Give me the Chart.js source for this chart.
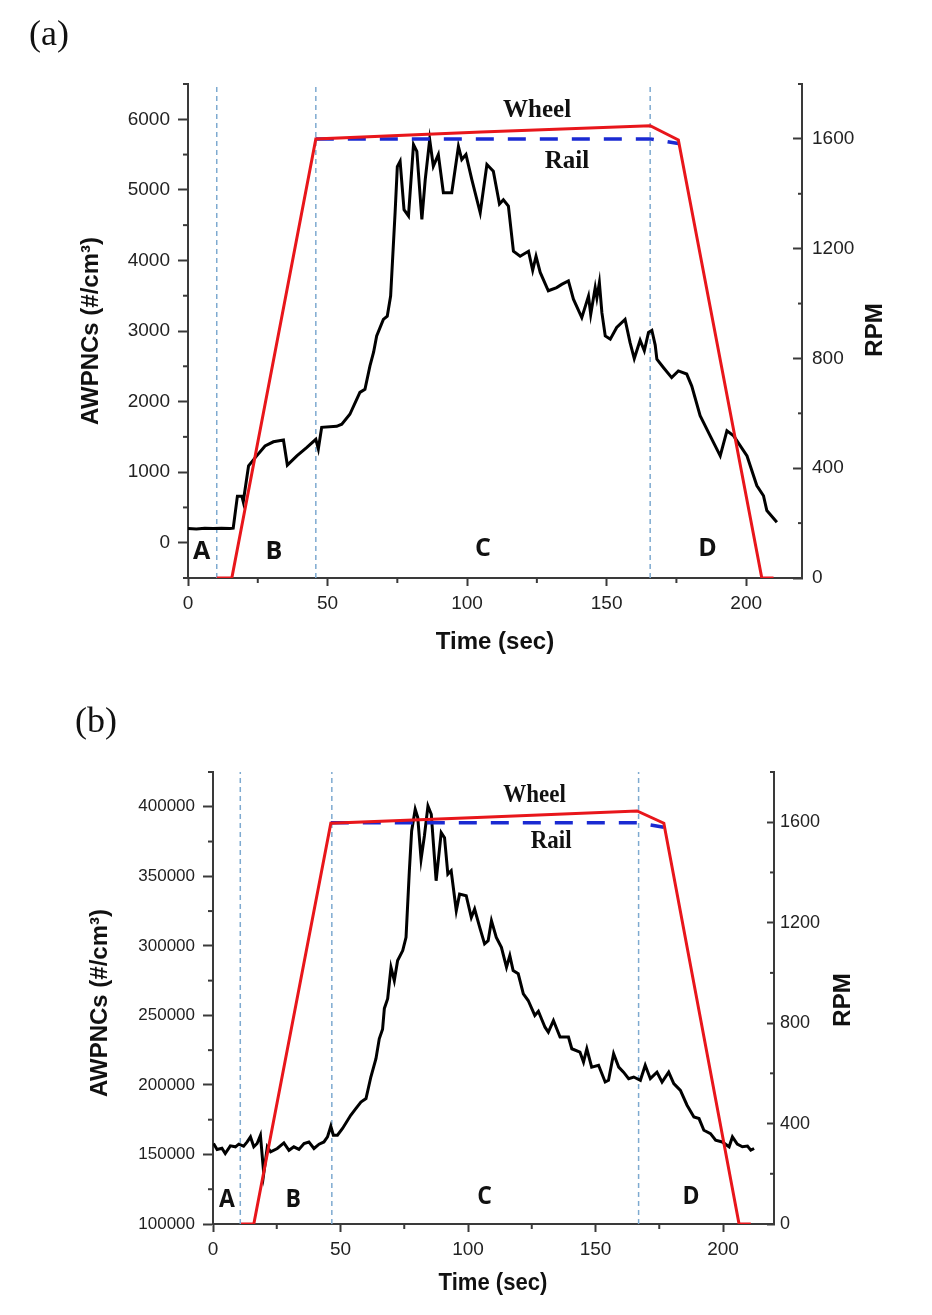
<!DOCTYPE html>
<html>
<head>
<meta charset="utf-8">
<script src="https://cdn.jsdelivr.net/npm/chart.js@4.4.1/dist/chart.umd.min.js"></script>
<style>
  body { margin: 0; background: #fff; }
  #wrap { position: relative; width: 932px; height: 1315px; }
  canvas { position: absolute; left: 0; }
  #chartA { top: 0; }
  #chartB { top: 670px; }
</style>
</head>
<body>
<div id="wrap">
  <canvas id="chartA" width="932" height="670"></canvas>
  <canvas id="chartB" width="932" height="645"></canvas>
</div>
<script>
// ---------- panel (a) data ----------
const timeA = [0, 3, 6, 9, 12, 15, 16.2, 17.7, 19.3, 19.8, 21.7, 24.6, 27.6, 30.6, 34.2, 35.6, 39, 42.6, 45.8, 46.7,
  47.9, 53.3, 55.1, 58, 61.6, 63.4, 65.2, 66.5, 67.6, 70, 71.4, 72.6, 74.2, 75, 76, 77.4, 79, 80.8, 82, 83.8,
  85, 86.6, 87.9, 89.7, 91.5, 94.5, 96.9, 98.1, 99.6, 101.7, 104.7, 107.1, 109.4, 111.6, 113, 114.8, 116.6, 119, 122, 123.5,
  124.7, 126.2, 129.1, 132.1, 133.9, 136.3, 138.1, 141.1, 143.5, 144.3, 145.9, 146.5, 147.4, 148.3, 149.5, 151.3, 153.6, 156.6, 158.4, 159.9,
  162, 163.5, 165, 166.2, 167.4, 168, 170.4, 173.3, 175.7, 178.7, 180.5, 183.5, 187.1, 190.7, 193.1, 195.5, 200.3, 203.8, 206.2, 207.4, 211];
const awpncA = [200, 195, 205, 200, 205, 200, 205, 660, 660, 580, 1090, 1230, 1370, 1430, 1455, 1100, 1230, 1350, 1465, 1330,
  1635, 1650, 1680, 1820, 2130, 2175, 2505, 2700, 2930, 3165, 3210, 3495, 4675, 5330, 5405, 4720, 4630, 5640, 5545, 4580,
  5145, 5710, 5335, 5500, 4960, 4960, 5615, 5430, 5500, 5145, 4675, 5360, 5265, 4800, 4860, 4770, 4130, 4060, 4130, 3860,
  4060, 3830, 3570, 3615, 3660, 3710, 3450, 3190, 3495, 3235, 3615, 3470, 3685, 3260, 2930, 2885, 3050, 3165, 2835, 2610,
  2870, 2720, 2980, 3010, 2800, 2600, 2480, 2340, 2435, 2390, 2220, 1800, 1515, 1230, 1585, 1515, 1230, 810, 665, 455, 290];
const wheelTimeA = [10.3, 15.7, 45.8, 105, 165.6, 175.7, 205.6, 209.8];
const wheelRpmA = [0, 0, 1600, 1625, 1648, 1596, 0, 0];
const railTimeA = [45.8, 165.6, 175.7];
const railRpmA = [1600, 1600, 1583];
const phaseTimesA = [10.3, 45.8, 165.6];

// ---------- panel (b) data ----------
const timeB = [0.2, 1.6, 3.5, 4.8, 6.8, 8.8, 10.1, 12, 13.4, 14.7, 16, 17.3, 18.6, 19.9, 21.3, 22.6, 25.2, 27.8, 29.8, 31.7,
  33.7, 35.7, 37.6, 39.6, 41.6, 43.5, 44.9, 46.2, 47.2, 48.8, 50.8, 54, 56, 58, 60, 61.9, 63.9, 65.2, 66.5, 67.2,
  68.5, 69.8, 71.1, 72.4, 74.4, 75.7, 77, 77.9, 79.3, 80.3, 81.6, 82.9, 84.3, 85.6, 87.5, 89.5, 90.8, 92.1, 93.4, 95.4,
  96.7, 99.3, 101.3, 102.6, 104.6, 106.5, 107.9, 109.2, 111.1, 113.1, 115.1, 116.4, 117.7, 119.7, 121.7, 123.6, 126.2, 127.6, 130.2, 131.5,
  133.5, 136.1, 139.4, 140.7, 143.9, 145.3, 146.6, 148.5, 151.2, 153.8, 155.1, 157.1, 159.1, 161, 163, 165, 167.6, 169.5, 171.5, 174.1,
  176.1, 178.7, 180.7, 183.3, 185.9, 188.6, 190.6, 192.5, 195.1, 197.1, 199.7, 202.4, 203.7, 205.6, 207.6, 209.6, 210.9, 212.2];
const awpncB = [157900, 153600, 154500, 150700, 156200, 155500, 157400, 156000, 159000, 162600, 155500, 157900, 163800, 136400, 155500, 151900, 154300, 158300, 153000, 155500,
  153600, 157900, 159000, 154300, 157400, 159000, 162600, 170300, 163800, 163800, 168700, 178200, 183000, 187700, 190200, 205700, 218900, 233200, 240000, 255000,
  262000, 284600, 275000, 289400, 296600, 306100, 354000, 382600, 398200, 392200, 362300, 379000, 400600, 394600, 346800, 381400, 377800, 351600, 354000, 325300,
  337200, 336000, 320400, 326500, 313300, 301400, 303700, 318100, 306100, 298900, 284600, 293000, 282200, 279900, 265500, 260700, 250000, 253000, 241500, 238000,
  246300, 234400, 234400, 226000, 223600, 216400, 226000, 212800, 214100, 202100, 203300, 222400, 212800, 209200, 204500, 205700, 203300, 214100, 204500, 209200,
  202100, 209200, 200900, 196100, 185400, 177000, 175800, 167400, 165000, 160200, 159000, 155500, 162600, 157400, 155500, 156000, 153100, 154300];
const wheelTimeB = [11, 16, 46.2, 106, 166.3, 176.8, 206.3, 210.9];
const wheelRpmB = [0, 0, 1596, 1620, 1645, 1596, 0, 0];
const railTimeB = [46.2, 166.3, 176.8];
const railRpmB = [1598, 1598, 1580];
const phaseTimesB = [10.7, 46.6, 166.9];

const phaseLabels = ['A', 'B', 'C', 'D'];

const SANS = '"Liberation Sans", Arial, sans-serif';
const SERIF = '"Liberation Serif", "Times New Roman", serif';
const AXIS = '#3a3a3a';
const RED = '#e8161b';
const BLUE = '#1a2ad2';
const GUIDE = '#7eaad0';

const toPoints = (xs, ys) => xs.map((x, i) => ({x: x, y: ys[i]}));

// explicit major ticks so that the labels land on round numbers
const majorTicks = step => scale => {
    const ticks = [];
    for (let v = Math.ceil(scale.min / step) * step; v <= scale.max + 1e-9; v += step) {
        ticks.push({value: v});
    }
    scale.ticks = ticks;
};

// minor ticks, labels and titles drawn on top of the chart
const overlayPlugin = {
    id: 'overlay',
    afterDraw(chart, args, opts) {
        const ctx = chart.ctx;
        ctx.save();
        ctx.strokeStyle = AXIS;
        ctx.lineWidth = 2;
        opts.minor.forEach(m => {
            const s = chart.scales[m.axis];
            for (let v = s.min; v <= s.max + 1e-9; v += m.step) {
                if (Math.abs(v / m.major - Math.round(v / m.major)) < 1e-9) continue;
                const p = s.getPixelForValue(v);
                ctx.beginPath();
                if (m.axis === 'x') {
                    ctx.moveTo(p, s.top); ctx.lineTo(p, s.top + m.len);
                } else if (s.position === 'left') {
                    ctx.moveTo(s.right, p); ctx.lineTo(s.right - m.len, p);
                } else {
                    ctx.moveTo(s.left, p); ctx.lineTo(s.left - m.len, p);
                }
                ctx.stroke();
            }
        });

        opts.texts.forEach(t => {
            let px = t.x, py = t.y;
            if (t.scale) {
                px = chart.scales.x.getPixelForValue(t.x);
                py = chart.scales[t.scale].getPixelForValue(t.y);
            }
            ctx.save();
            ctx.font = t.font;
            ctx.fillStyle = '#111';
            ctx.textAlign = 'center';
            ctx.textBaseline = 'middle';
            ctx.translate(px, py);
            if (t.rotate) ctx.rotate(t.rotate);
            if (t.sx) ctx.scale(t.sx, 1);
            ctx.fillText(t.text, 0, 0);
            ctx.restore();
        });
        ctx.restore();
    }
};

const makeChart = function({elementId, time, awpnc, wheelT, wheelR, railT, railR, phases, top, leftW, rightW, bottomH,
                            yMin, yMax, yStep, yMinor, yFont, rFont, rTick, rPad, texts}) {

    const guides = phases.map(t => ({
        data: toPoints([t, t], [0, 1800]),
        yAxisID: 'rpm',
        borderColor: GUIDE,
        borderWidth: 1.5,
        borderDash: [5, 4],
        pointRadius: 0,
        order: 5
    }));

    new Chart(document.getElementById(elementId), {
        type: 'line',
        data: {
            datasets: [
                {data: toPoints(wheelT, wheelR), yAxisID: 'rpm', borderColor: RED, borderWidth: 3, pointRadius: 0, order: 0},
                {data: toPoints(railT, railR), yAxisID: 'rpm', borderColor: BLUE, borderWidth: 3.5, borderDash: [18, 14], pointRadius: 0, order: 1},
                {data: toPoints(time, awpnc), yAxisID: 'y', borderColor: '#000', borderWidth: 3, pointRadius: 0, order: 2},
                ...guides
            ]
        },
        options: {
            responsive: false,
            animation: false,
            layout: {padding: {top: top, left: 0, right: 0, bottom: 0}},
            plugins: {
                legend: {display: false},
                tooltip: {enabled: false},
                overlay: {
                    minor: [
                        {axis: 'x', step: 25, major: 50, len: 5},
                        {axis: 'y', step: yMinor, major: yStep, len: 5},
                        {axis: 'rpm', step: 200, major: 400, len: 4}
                    ],
                    texts: texts
                }
            },
            scales: {
                x: {
                    type: 'linear',
                    min: 0,
                    max: 220,
                    afterBuildTicks: majorTicks(50),
                    afterFit: s => { s.height = bottomH; },
                    border: {color: AXIS, width: 2},
                    grid: {drawOnChartArea: false, tickLength: 8, tickWidth: 2, tickColor: AXIS},
                    ticks: {font: {family: SANS, size: 19}, color: '#222', padding: 6, maxRotation: 0, callback: v => String(v)}
                },
                y: {
                    position: 'left',
                    min: yMin,
                    max: yMax,
                    afterBuildTicks: majorTicks(yStep),
                    afterFit: s => { s.width = leftW; },
                    border: {color: AXIS, width: 2},
                    grid: {drawOnChartArea: false, tickLength: 10, tickWidth: 2, tickColor: AXIS},
                    ticks: {font: {family: SANS, size: yFont}, color: '#222', padding: 8, callback: v => String(v)}
                },
                rpm: {
                    position: 'right',
                    min: 0,
                    max: 1800,
                    afterBuildTicks: majorTicks(400),
                    afterFit: s => { s.width = rightW; },
                    border: {color: AXIS, width: 2},
                    grid: {drawOnChartArea: false, tickLength: rTick, tickWidth: 2, tickColor: AXIS},
                    ticks: {font: {family: SANS, size: rFont}, color: '#222', padding: rPad, callback: v => String(v)}
                }
            }
        },
        plugins: [overlayPlugin]
    });
}

const TITLE = 'bold 24px ' + SANS;
const NOTE = 'bold 25px ' + SERIF;
const PHASE = 'bold 25px "Open Sans", ' + SANS;

makeChart({
    elementId: 'chartA',
    time: timeA, awpnc: awpncA,
    wheelT: wheelTimeA, wheelR: wheelRpmA,
    railT: railTimeA, railR: railRpmA,
    phases: phaseTimesA,
    top: 84, leftW: 188, rightW: 130, bottomH: 92,
    yMin: -500, yMax: 6500, yStep: 1000, yMinor: 500,
    yFont: 19, rFont: 19, rTick: -9, rPad: 19,
    texts: [
        {text: '(a)', x: 49, y: 36, font: '36px ' + SERIF},
        {text: 'AWPNCs (#/cm³)', x: 91, y: 331, font: TITLE, rotate: -Math.PI / 2},
        {text: 'RPM', x: 875, y: 330, font: TITLE, rotate: -Math.PI / 2},
        {text: 'Time (sec)', x: 495, y: 642, font: TITLE},
        {text: 'Wheel', scale: 'rpm', x: 125.1, y: 1702, font: NOTE},
        {text: 'Rail', scale: 'rpm', x: 135.8, y: 1517, font: NOTE},
        {text: phaseLabels[0], scale: 'y', x: 4.9, y: -134, font: PHASE},
        {text: phaseLabels[1], scale: 'y', x: 30.8, y: -134, font: PHASE},
        {text: phaseLabels[2], scale: 'y', x: 105.7, y: -88, font: PHASE},
        {text: phaseLabels[3], scale: 'y', x: 186.1, y: -88, font: PHASE}
    ]
});

makeChart({
    elementId: 'chartB',
    time: timeB, awpnc: awpncB,
    wheelT: wheelTimeB, wheelR: wheelRpmB,
    railT: railTimeB, railR: railRpmB,
    phases: phaseTimesB,
    top: 102, leftW: 213, rightW: 158, bottomH: 91,
    yMin: 100000, yMax: 425000, yStep: 50000, yMinor: 25000,
    yFont: 17, rFont: 18, rTick: -7, rPad: 13,
    texts: [
        {text: '(b)', x: 96, y: 53, font: '36px ' + SERIF},
        {text: 'AWPNCs (#/cm³)', x: 100, y: 333, font: TITLE, rotate: -Math.PI / 2},
        {text: 'RPM', x: 843, y: 330, font: TITLE, rotate: -Math.PI / 2},
        {text: 'Time (sec)', x: 493, y: 613, font: TITLE, sx: 0.92},
        {text: 'Wheel', scale: 'rpm', x: 126.1, y: 1707, font: NOTE, sx: 0.92},
        {text: 'Rail', scale: 'rpm', x: 132.6, y: 1525, font: NOTE, sx: 0.92},
        {text: phaseLabels[0], scale: 'y', x: 5.5, y: 117200, font: PHASE, sx: 0.92},
        {text: phaseLabels[1], scale: 'y', x: 31.5, y: 117200, font: PHASE, sx: 0.92},
        {text: phaseLabels[2], scale: 'y', x: 106.5, y: 119600, font: PHASE, sx: 0.92},
        {text: phaseLabels[3], scale: 'y', x: 187.5, y: 119600, font: PHASE, sx: 0.92}
    ]
});
</script>
</body>
</html>
